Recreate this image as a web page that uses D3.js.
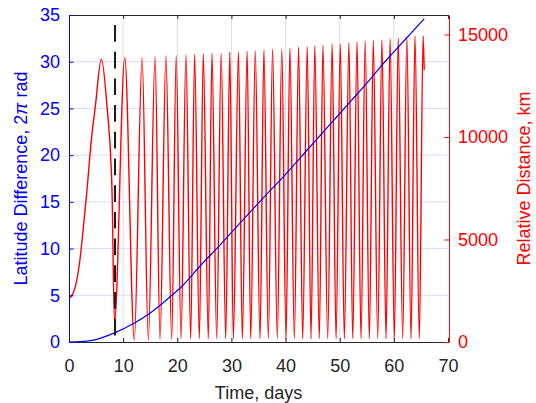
<!DOCTYPE html>
<html>
<head>
<meta charset="utf-8">
<script src="https://d3js.org/d3.v7.min.js"></script>
<style>
  body { margin: 0; background: #fff; }
  svg { display: block; font-family: "Liberation Sans", Arial, sans-serif; }
</style>
</head>
<body>
<svg id="chart" width="536" height="403"></svg>
<script>
// x ticks (days) and the two y axes
var xTicks = [0, 10, 20, 30, 40, 50, 60, 70];
var leftTicks = [0, 5, 10, 15, 20, 25, 30, 35];
var rightTicks = [0, 5000, 10000, 15000];

// dashed marker (days)
var markerDay = 8.5;

// latitude difference, 2pi rad (blue)
var latDays = [0, 2, 4.5, 8.5, 12, 15, 19, 21.1, 24, 28, 32, 36, 40, 44, 48, 52, 55.6, 57.45, 60, 63, 65.6];
var latDiff = [0, 0.03, 0.2, 1.0, 2.0, 3.1, 5.0, 6.1, 8.0, 10.45, 13.0, 15.5, 17.95, 20.55, 23.15, 25.75, 28.1, 29.4, 31.05, 32.95, 34.6];

// relative distance, km (red): first hump before the marker
var humpDays = [0, 0.5, 1.16, 2.09, 2.72, 3.32, 4.12, 4.86, 5.97, 7.02, 7.94];
var humpKm = [2130, 2250, 2700, 4160, 5790, 7410, 9850, 11480, 13790, 11480, 7410];

// then the oscillation: troughs and peaks
var troughDays = [8.40, 12.06, 14.65, 16.81, 18.97, 20.69, 22.47, 24.07, 25.73, 27.28, 28.94, 30.35, 32.01, 33.56,
  35.28, 36.81, 38.47, 40.08, 41.62, 43.16, 44.70, 46.23, 47.78, 49.32, 50.85, 52.40, 53.93, 55.47, 57.02,
  58.55, 60.09, 61.63, 63.17, 64.70];
var troughKm = [930, 100, 100, 130, 130, 160, 160, 160, 160, 160, 160, 160, 160, 160,
  160, 160, 160, 160, 160, 160, 160, 160, 160, 160, 160, 160, 160, 160, 160,
  160, 160, 160, 160, 160];
var peakDays = [10.3, 13.5, 15.9, 17.9, 19.8, 21.6, 23.2, 24.8, 26.4, 28.1, 29.7, 31.3, 32.9, 34.4, 36.0, 37.6,
  39.3, 40.8, 42.4, 44.0, 45.4, 46.9, 48.6, 50.1, 51.7, 53.2, 54.7, 56.2, 57.8, 59.3, 60.8, 62.4, 63.9, 65.4];
var peakKm = [13870, 13870, 13920, 13950, 13970, 14000, 14030, 14050, 14080, 14100, 14130, 14150, 14180, 14210,
  14240, 14280, 14300, 14330, 14380, 14400, 14440, 14470, 14520, 14540, 14600, 14630, 14680, 14700, 14730,
  14780, 14820, 14880, 14930, 14930];
var endDay = 65.6, endKm = 13270;

var svg = d3.select("#chart");

var x = d3.scaleLinear().domain([0, 70]).range([69, 448]);
var yL = d3.scaleLinear().domain([0, 35]).range([342, 15]);
var yR = d3.scaleLinear().domain([0, 15950]).range([342, 15]);

// grid
svg.append("g").selectAll("line")
  .data(xTicks.slice(1, -1))
  .enter().append("line")
  .attr("x1", function(d) { return x(d); }).attr("x2", function(d) { return x(d); })
  .attr("y1", 15).attr("y2", 342)
  .attr("stroke", "#dedede").attr("stroke-width", 1);

svg.append("g").selectAll("line")
  .data(leftTicks.slice(1, -1))
  .enter().append("line")
  .attr("x1", 69).attr("x2", 448)
  .attr("y1", function(d) { return yL(d); }).attr("y2", function(d) { return yL(d); })
  .attr("stroke", "#dadaff").attr("stroke-width", 1);

// red series
var red = [];
humpDays.forEach(function(d, i) { red.push([d, humpKm[i]]); });
troughDays.forEach(function(d, i) { red.push([d, troughKm[i]]); });
peakDays.forEach(function(d, i) { red.push([d, peakKm[i]]); });
red.push([endDay, endKm]);
red.sort(function(a, b) { return a[0] - b[0]; });

var redLine = d3.line()
  .x(function(d) { return x(d[0]); })
  .y(function(d) { return yR(d[1]); })
  .curve(d3.curveMonotoneX);

svg.append("path")
  .datum(red)
  .attr("d", redLine)
  .attr("fill", "none")
  .attr("stroke", "#ff0000")
  .attr("stroke-width", 1.4);

// blue series
var blue = latDays.map(function(d, i) { return [d, latDiff[i]]; });
var blueLine = d3.line()
  .x(function(d) { return x(d[0]); })
  .y(function(d) { return yL(d[1]); })
  .curve(d3.curveMonotoneX);

svg.append("path")
  .datum(blue)
  .attr("d", blueLine)
  .attr("fill", "none")
  .attr("stroke", "#0000ff")
  .attr("stroke-width", 1.2);

// dashed marker
svg.append("line")
  .attr("x1", x(markerDay)).attr("x2", x(markerDay))
  .attr("y1", 15).attr("y2", 342)
  .attr("stroke", "#1a1a1a")
  .attr("stroke-width", 2)
  .attr("stroke-dasharray", "16.7,10")
  .attr("stroke-dashoffset", 16.7);

// axes
function styleAxis(g, color) {
  g.attr("color", color)
   .attr("font-family", "Liberation Sans, Arial, sans-serif")
   .attr("font-size", 18);
  g.selectAll("path.domain").attr("stroke-width", 1);
}

svg.append("g")
  .attr("transform", "translate(0,15)")
  .call(d3.axisTop(x).tickValues(xTicks).tickSize(-4).tickSizeOuter(0).tickFormat(""))
  .call(styleAxis, "#262626");

svg.append("g")
  .attr("transform", "translate(0,342)")
  .call(d3.axisBottom(x).tickValues(xTicks).tickSize(-4).tickSizeOuter(0).tickPadding(17))
  .call(styleAxis, "#262626");

svg.append("g")
  .attr("transform", "translate(69,0)")
  .call(d3.axisLeft(yL).tickValues(leftTicks).tickSize(-4.5).tickSizeOuter(0).tickPadding(9))
  .call(styleAxis, "#0000ff");

svg.append("g")
  .attr("transform", "translate(449,0)")
  .call(d3.axisRight(yR).tickValues(rightTicks).tickSize(-4.5).tickSizeOuter(0).tickPadding(9)
    .tickFormat(d3.format("d")))
  .call(styleAxis, "#ff0000");

// labels
svg.append("text")
  .attr("x", 258.5).attr("y", 399)
  .attr("text-anchor", "middle")
  .attr("font-size", 18)
  .attr("fill", "#262626")
  .text("Time, days");

var leftLabel = svg.append("text")
  .attr("transform", "translate(27,178.5) rotate(-90)")
  .attr("text-anchor", "middle")
  .attr("font-size", 18)
  .attr("fill", "#0000ff");
leftLabel.append("tspan").text("Latitude Difference, 2");
leftLabel.append("tspan").attr("font-style", "italic").text("\u03c0");
leftLabel.append("tspan").text(" rad");

svg.append("text")
  .attr("transform", "translate(530,178.5) rotate(-90)")
  .attr("text-anchor", "middle")
  .attr("font-size", 18)
  .attr("fill", "#ff0000")
  .text("Relative Distance, km");
</script>
</body>
</html>
